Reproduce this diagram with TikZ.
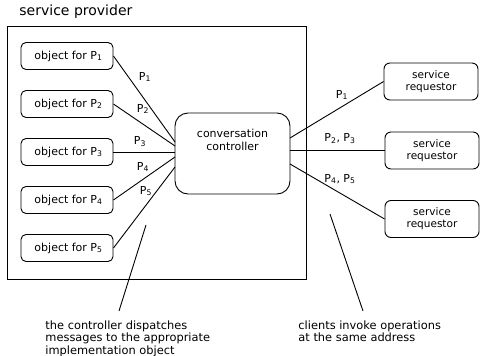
\documentclass[tikz,border=0pt]{standalone}
\usepackage{fontspec}
\setmainfont{DejaVu Sans}
\begin{document}
\begin{tikzpicture}[x=1pt,y=-1pt, line width=0.9pt,
  every node/.style={font=\fontsize{11}{13}\selectfont},
  objbox/.style={draw, rounded corners=5pt, minimum width=92pt, minimum height=27pt, inner sep=0pt},
  ctrlbox/.style={draw, rounded corners=13pt, minimum width=115pt, minimum height=81pt, inner sep=0pt},
  reqbox/.style={draw, rounded corners=6pt, minimum width=94pt, minimum height=37pt, inner sep=0pt, align=center, font=\fontsize{10.5}{12}\selectfont},
  lbl/.style={inner sep=0pt},
  note/.style={align=left, inner sep=0pt, font=\fontsize{11.4}{12.5}\selectfont}]
\useasboundingbox (0,0) rectangle (480,356);

% provider frame and title
\node[draw, minimum width=299pt, minimum height=253pt, inner sep=0pt] (prov) at (156.5,152.5) {};
\node[anchor=base west, inner sep=0pt, font=\fontsize{14}{16}\selectfont] (title) at (19,16) {service provider};

% implementation objects
\node[objbox] (o1) at (67,56) {\hspace*{3pt}object for P\textsubscript{1}};
\node[objbox] (o2) at (67,104) {\hspace*{3pt}object for P\textsubscript{2}};
\node[objbox] (o3) at (67,152) {\hspace*{3pt}object for P\textsubscript{3}};
\node[objbox] (o4) at (67,200) {\hspace*{3pt}object for P\textsubscript{4}};
\node[objbox] (o5) at (67,248) {\hspace*{3pt}object for P\textsubscript{5}};

% controller
\node[ctrlbox, label={[anchor=north, align=center, yshift=-16pt, inner sep=0pt]north:conversation\\controller}] (ctrl) at (232.5,153.5) {};

% requestors
\node[reqbox] (r1) at (431,81.5) {service\\requestor};
\node[reqbox] (r2) at (432,150.5) {service\\requestor};
\node[reqbox] (r3) at (432,219) {service\\requestor};

% controller attachment points
\coordinate (c1) at (175,142);
\coordinate (c2) at (175,146);
\coordinate (c4) at (175,157);
\coordinate (c5) at (175,167);
\coordinate (d1) at (290,138);
\coordinate (d3) at (290,164);

% dispatch connectors
\draw (o1.east) -- (c1);
\draw (o2.east) -- (c2);
\draw (o3.east) -- (o3.east -| ctrl.west);
\draw (o4.east) -- (c4);
\draw (o5.east) -- (c5);

% requestor connectors
\draw (d1) -- (r1.west);
\draw (r2.west -| ctrl.east) -- (r2.west);
\draw (d3) -- (r3.west);

% connector labels
\node[lbl] (l1) at (145,77) {P\textsubscript{1}};
\node[lbl] (l2) at (143,109) {P\textsubscript{2}};
\node[lbl] (l3) at (140,142) {P\textsubscript{3}};
\node[lbl] (l4) at (143,167) {P\textsubscript{4}};
\node[lbl] (l5) at (146,191) {P\textsubscript{5}};
\node[lbl] (m1) at (342,95) {P\textsubscript{1}};
\node[lbl] (m2) at (340,139) {P\textsubscript{2}, P\textsubscript{3}};
\node[lbl] (m3) at (340,179) {P\textsubscript{4}, P\textsubscript{5}};

% annotations
\node[note, anchor=north west] (n1) at (45,320) {the controller dispatches\\messages to the appropriate\\implementation object};
\node[note, anchor=north west] (n2) at (298,320) {clients invoke operations\\at the same address};
\coordinate (a1) at (146,225);
\coordinate (a2) at (119,311);
\coordinate (b1) at (330,214);
\coordinate (b2) at (363,311);
\draw (a1) -- (a2);
\draw (b1) -- (b2);
\end{tikzpicture}
\end{document}
